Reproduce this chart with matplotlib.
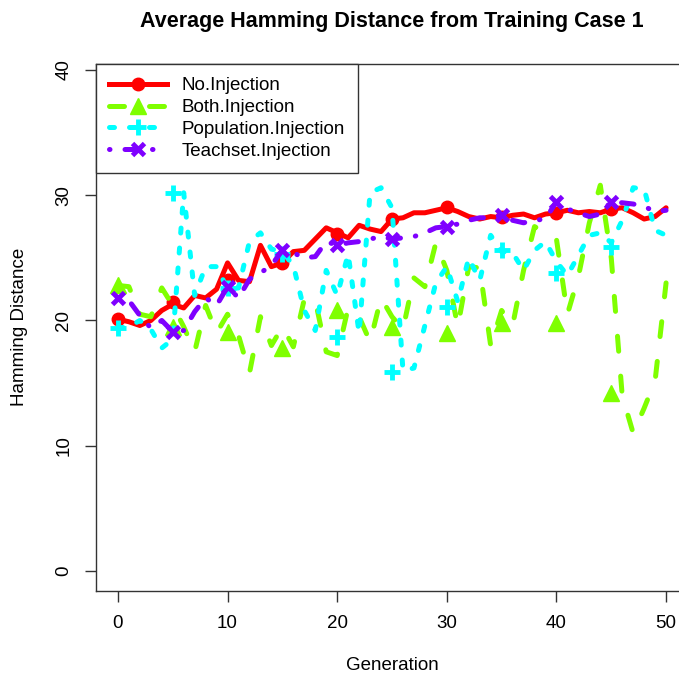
import matplotlib
matplotlib.use("Agg")
import matplotlib.pyplot as plt
from matplotlib.lines import Line2D

plt.rcParams['font.family'] = ['Liberation Sans', 'DejaVu Sans']

generations = list(range(0, 51))
marker_gens = list(range(0, 50, 5))

no_injection = [20.1, 19.9, 19.6, 20.0, 20.8, 21.3, 21.0, 22.0, 21.8, 22.5,
                24.6, 23.2, 23.1, 26.0, 24.3, 24.6, 25.5, 25.6, 26.5, 27.4,
                27.0, 26.6, 27.6, 27.3, 27.1, 28.1, 28.2, 28.6, 28.6, 28.8,
                29.0, 28.7, 28.3, 28.1, 28.3, 28.2, 28.4, 28.5, 28.2, 28.5,
                28.6, 28.8, 28.6, 28.7, 28.6, 28.9, 29.0, 28.6, 28.1, 28.3, 29.0]
both_injection = [22.8, 22.7, 20.5, 20.3, 22.6, 21.2, 19.5, 17.5, 21.2, 19.0,
                  20.5, 18.8, 15.8, 20.3, 18.0, 19.5, 17.9, 21.7, 21.6, 17.5,
                  17.2, 21.0, 20.3, 18.3, 21.8, 20.3, 19.3, 23.4, 22.7, 26.2,
                  24.0, 19.5, 24.3, 24.2, 18.0, 20.8, 19.6, 24.0, 27.5, 27.0,
                  26.5, 20.5, 23.5, 27.8, 30.8, 25.0, 14.0, 11.0, 13.0, 15.2, 23.0]
population_injection = [19.4, 19.5, 20.0, 19.3, 17.8, 18.5, 30.2, 22.0, 24.3, 24.3,
                        22.5, 22.6, 26.3, 27.0, 25.7, 25.5, 24.4, 20.8, 19.2, 24.0,
                        22.0, 25.3, 19.0, 30.2, 30.6, 29.0, 16.0, 16.2, 19.6, 23.0,
                        24.3, 21.5, 25.0, 23.2, 26.8, 25.5, 25.4, 24.0, 25.6, 26.3,
                        24.7, 23.6, 25.2, 26.8, 27.0, 26.2, 28.0, 30.6, 30.5, 27.2, 26.8]
teachset_injection = [21.8, 21.6, 20.4, 19.4, 20.0, 19.1, 19.2, 20.7, 21.8, 21.2,
                      22.7, 21.8, 23.3, 23.8, 24.4, 25.6, 25.4, 25.0, 25.1, 26.3,
                      26.0, 26.2, 26.3, 26.5, 26.7, 26.5, 26.6, 26.7, 27.0, 27.4,
                      27.5, 27.7, 28.0, 28.2, 28.2, 28.4, 28.0, 27.8, 28.0, 28.1,
                      29.5, 28.9, 28.6, 28.3, 28.5, 29.5, 29.4, 29.3, 29.1, 28.7, 28.8]

# marker values at generations 0, 5, ..., 45
no_injection_pts = [20.1, 21.5, 23.2, 24.6, 26.9, 28.1, 29.1, 28.3, 28.6, 28.9]
both_injection_pts = [22.8, 19.5, 19.1, 17.8, 20.8, 19.5, 19.0, 19.8, 19.8, 14.2]
population_injection_pts = [19.4, 30.2, 22.6, 25.3, 18.7, 15.9, 21.1, 25.6, 23.8, 25.9]
teachset_injection_pts = [21.8, 19.1, 22.7, 25.6, 26.0, 26.5, 27.5, 28.4, 29.5, 29.5]

labels = ["No.Injection", "Both.Injection", "Population.Injection", "Teachset.Injection"]
colors = ["#ff0000", "#7fff00", "#00ffff", "#7f00ff"]
styles = ["-", (0, (3, 5)), (0, (1, 3)), (0, (0.1, 3, 2.5, 3))]
# marker, size, edge width
mstyles = [("o", 9, 1), ("^", 11, 1), ("+", 11, 3.5), ("x", 9, 3.5)]

lines = [no_injection, both_injection, population_injection, teachset_injection]
points = [no_injection_pts, both_injection_pts, population_injection_pts, teachset_injection_pts]

W, H = 679, 677
fig = plt.figure(figsize=(W / 100, H / 100), dpi=100)
ax = fig.add_axes([96 / W, 1 - 591 / H, 592 / W, 527 / H])

lw = 3.6
fs = 13.5
handles = []
for y, pts, c, ls, (m, ms, mew) in zip(lines, points, colors, styles, mstyles):
    ax.plot(generations, y, color=c, lw=lw, linestyle=ls,
            dash_capstyle='round', solid_capstyle='round')
    ax.plot(marker_gens, pts, linestyle='none', marker=m, ms=ms, mew=mew,
            color=c, mec=c, mfc=c)
    handles.append(Line2D([], [], color=c, lw=lw, linestyle=ls, dash_capstyle='round',
                          marker=m, ms=ms, mew=mew, mec=c, mfc=c))

ax.set_xlim(-2, 52)
ax.set_ylim(-1.6, 40.48)
ax.set_xticks([0, 10, 20, 30, 40, 50])
ax.set_yticks([0, 10, 20, 30, 40])
ax.tick_params(axis='both', labelsize=fs, length=8, width=1, color='#333333', pad=9)
for lab in ax.get_yticklabels():
    lab.set_rotation(90)
    lab.set_va('center')
for s in ax.spines.values():
    s.set_color('#333333')
    s.set_linewidth(1)

leg = ax.legend(handles, labels, loc='upper left', bbox_to_anchor=(0, 1),
                borderaxespad=0, fontsize=fs, handlelength=3.1, handletextpad=0.75,
                labelspacing=0.25, borderpad=0.7, fancybox=False, framealpha=1,
                edgecolor='#333333', numpoints=1)
leg.get_frame().set_linewidth(1)

fig.text(392 / W, 1 - 22 / H, "Average Hamming Distance from Training Case 1",
         ha='center', va='center', fontsize=15.5, fontweight='bold')
fig.text(392 / W, 1 - 666 / H, "Generation", ha='center', va='center', fontsize=fs)
fig.text(20 / W, 1 - 327 / H, "Hamming Distance", ha='center', va='center',
         fontsize=fs, rotation=90)

fig.savefig("out.png", dpi=100)
